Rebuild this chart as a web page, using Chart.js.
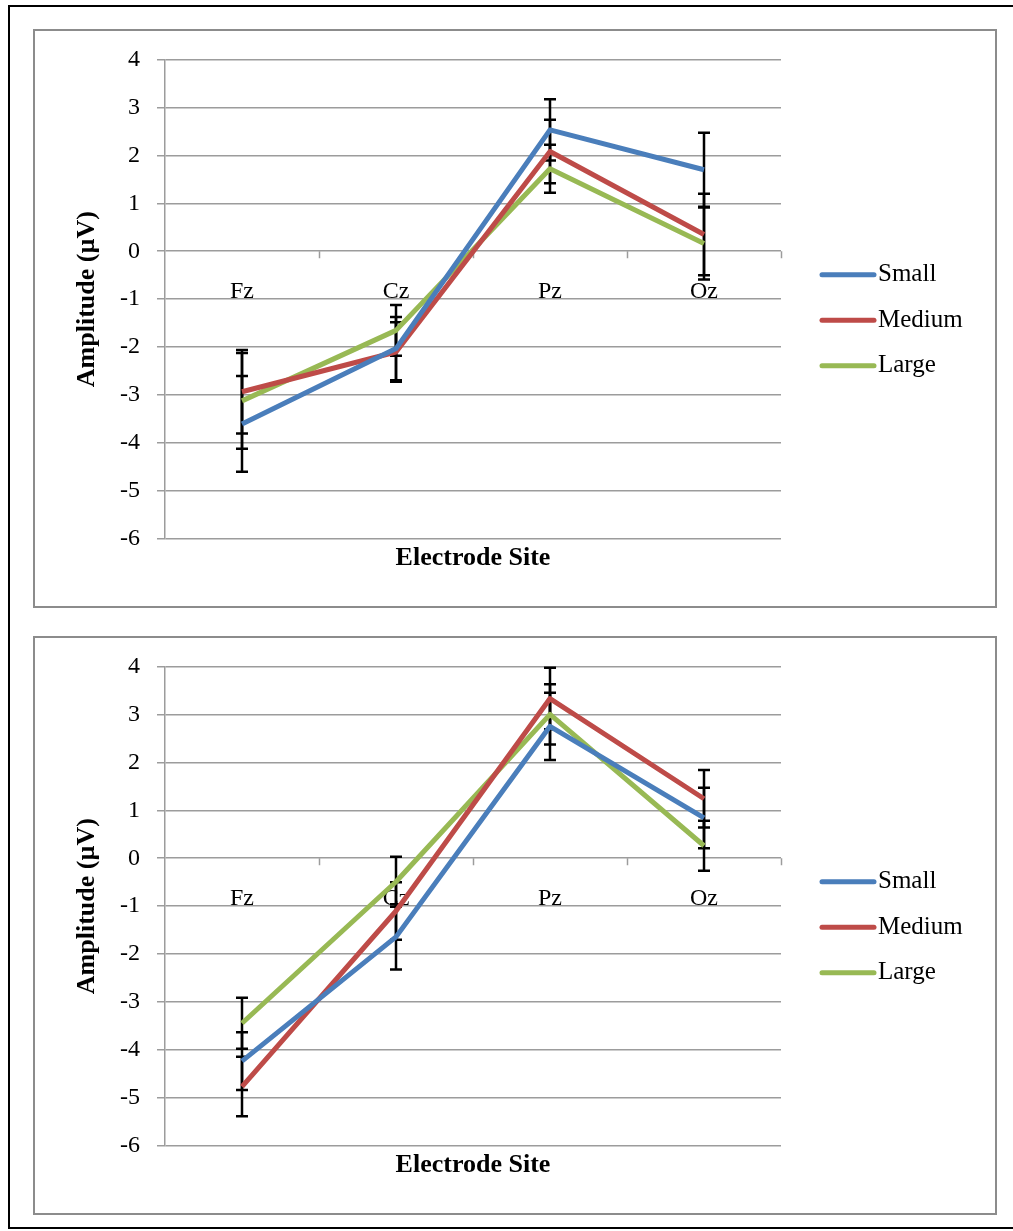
<!DOCTYPE html>
<html>
<head>
<meta charset="utf-8">
<script src="https://cdn.jsdelivr.net/npm/chart.js@4"></script>
<style>
  html, body { margin: 0; padding: 0; background: #fff; overflow: hidden; }
  body { width: 1013px; height: 1231px; position: relative; }
  .frame { position: absolute; left: 8px; top: 5px; width: 1020px; height: 1224px; border: 2px solid #000; box-sizing: border-box; }
  .panel { position: absolute; left: 33px; width: 964px; height: 579px; border: 2px solid #8c8c8c; box-sizing: border-box; }
  .box { position: absolute; left: 35px; width: 960px; height: 577px; }
</style>
</head>
<body>
<div class="frame"></div>
<div class="panel" style="top:29px"></div>
<div class="panel" style="top:636px"></div>
<div class="box" style="top:28px"><canvas id="chartTop"></canvas></div>
<div class="box" style="top:635px"><canvas id="chartBottom"></canvas></div>

<script>
// 電極位置
const sites = ['Fz', 'Cz', 'Pz', 'Oz'];
const seriesNames = ['Small', 'Medium', 'Large'];
const seriesColors = ['#4a7ebb', '#be4b48', '#98b954'];
const yTicks = [4, 3, 2, 1, 0, -1, -2, -3, -4, -5, -6];

// 上圖：平均值與誤差
const topSmall = [-3.6, -2.03, 2.53, 1.70];
const topSmallErr = [1.0, 0.66, 0.64, 0.77];
const topMedium = [-2.93, -2.1, 2.08, 0.35];
const topMediumErr = [0.87, 0.62, 0.66, 0.85];
const topLarge = [-3.12, -1.65, 1.72, 0.16];
const topLargeErr = [1.0, 0.53, 0.5, 0.75];

// 下圖：平均值與誤差
const botSmall = [-4.23, -1.64, 2.75, 0.84];
const botSmallErr = [0.6, 0.68, 0.7, 0.63];
const botMedium = [-4.76, -1.1, 3.33, 1.24];
const botMediumErr = [0.62, 0.6, 0.64, 0.6];
const botLarge = [-3.44, -0.49, 3.0, 0.26];
const botLargeErr = [0.53, 0.52, 0.63, 0.52];

const FONT = '"Liberation Serif", "Times New Roman", serif';
const GRID = '#9c9c9c';

// 誤差線（畫在折線下方）
const errorBars = {
    id: 'errorBars',
    beforeDatasetsDraw(chart) {
        const ctx = chart.ctx;
        const y = chart.scales.y;
        ctx.save();
        ctx.strokeStyle = '#000';
        ctx.lineWidth = 2.5;
        chart.data.datasets.forEach((ds, i) => {
            const meta = chart.getDatasetMeta(i);
            meta.data.forEach((pt, j) => {
                const v = ds.data[j], e = ds.errors[j];
                const hi = y.getPixelForValue(v + e);
                const lo = y.getPixelForValue(v - e);
                ctx.beginPath();
                ctx.moveTo(pt.x, hi); ctx.lineTo(pt.x, lo);
                ctx.moveTo(pt.x - 6, hi); ctx.lineTo(pt.x + 6, hi);
                ctx.moveTo(pt.x - 6, lo); ctx.lineTo(pt.x + 6, lo);
                ctx.stroke();
            });
        });
        ctx.restore();
    }
};

// 零線上的類別標籤與刻度、右側圖例
const siteAxis = {
    id: 'siteAxis',
    beforeDatasetsDraw(chart) {
        const ctx = chart.ctx;
        const area = chart.chartArea;
        const x = chart.scales.x, y = chart.scales.y;
        const zeroY = y.getPixelForValue(0);
        ctx.save();
        ctx.strokeStyle = GRID;
        ctx.lineWidth = 1.5;
        const step = (area.right - area.left) / sites.length;
        for (let k = 1; k <= sites.length; k++) {
            const tx = Math.round(area.left + k * step) + 0.5;
            ctx.beginPath();
            ctx.moveTo(tx, zeroY); ctx.lineTo(tx, zeroY + 7);
            ctx.stroke();
        }
        ctx.fillStyle = '#000';
        ctx.font = '24px ' + FONT;
        ctx.textAlign = 'center';
        ctx.textBaseline = 'middle';
        sites.forEach((s, i) => ctx.fillText(s, x.getPixelForValue(i), zeroY + 40));
        ctx.restore();
    },
    afterDraw(chart) {
        const ctx = chart.ctx;
        const area = chart.chartArea;
        const mid = (area.top + area.bottom) / 2 + 21;
        ctx.save();
        ctx.font = '25px ' + FONT;
        ctx.textBaseline = 'middle';
        ctx.textAlign = 'left';
        chart.data.datasets.forEach((ds, i) => {
            const ly = mid + (i - 1) * 45.5;
            ctx.strokeStyle = ds.borderColor;
            ctx.lineWidth = 5;
            ctx.lineCap = 'round';
            ctx.beginPath();
            ctx.moveTo(area.right + 41, ly); ctx.lineTo(area.right + 93, ly);
            ctx.stroke();
            ctx.fillStyle = '#000';
            ctx.fillText(ds.label, area.right + 97, ly);
        });
        ctx.restore();
    }
};

function makeChart(canvasId, values, errors) {
    const ctx = document.getElementById(canvasId).getContext('2d');
    return new Chart(ctx, {
        type: 'line',
        data: {
            labels: sites,
            datasets: seriesNames.map((name, i) => ({
                label: name,
                data: values[i],
                errors: errors[i],
                borderColor: seriesColors[i],
                backgroundColor: seriesColors[i],
                borderWidth: 5,
                borderJoinStyle: 'round',
                pointRadius: 0,
                tension: 0
            }))
        },
        options: {
            responsive: true,
            maintainAspectRatio: false,
            animation: false,
            layout: { padding: { top: 25, right: 214, left: 0, bottom: 0 } },
            plugins: { legend: { display: false }, tooltip: { enabled: false } },
            scales: {
                x: {
                    type: 'category',
                    offset: true,
                    grid: { display: false },
                    border: { display: false },
                    ticks: { display: false },
                    title: {
                        display: true, text: 'Electrode Site', color: '#000',
                        font: { family: FONT, size: 26, weight: 'bold' },
                        padding: { top: 0, bottom: 31 }
                    },
                    afterFit: s => { s.height = 66; }
                },
                y: {
                    min: Math.min(...yTicks),
                    max: Math.max(...yTicks),
                    afterBuildTicks: s => { s.ticks = yTicks.map(v => ({ value: v })); },
                    grid: { color: GRID, lineWidth: 1.5, tickLength: 8 },
                    border: { color: GRID, width: 1.5 },
                    ticks: { color: '#000', padding: 17, font: { family: FONT, size: 24 } },
                    title: {
                        display: true, text: 'Amplitude (µV)', color: '#000',
                        font: { family: FONT, size: 26, weight: 'bold' },
                        padding: { top: 37, bottom: 0 }
                    },
                    afterFit: s => { s.width = 130; }
                }
            }
        },
        plugins: [errorBars, siteAxis]
    });
}

makeChart('chartTop',
    [topSmall, topMedium, topLarge],
    [topSmallErr, topMediumErr, topLargeErr]);
makeChart('chartBottom',
    [botSmall, botMedium, botLarge],
    [botSmallErr, botMediumErr, botLargeErr]);
</script>
</body>
</html>
